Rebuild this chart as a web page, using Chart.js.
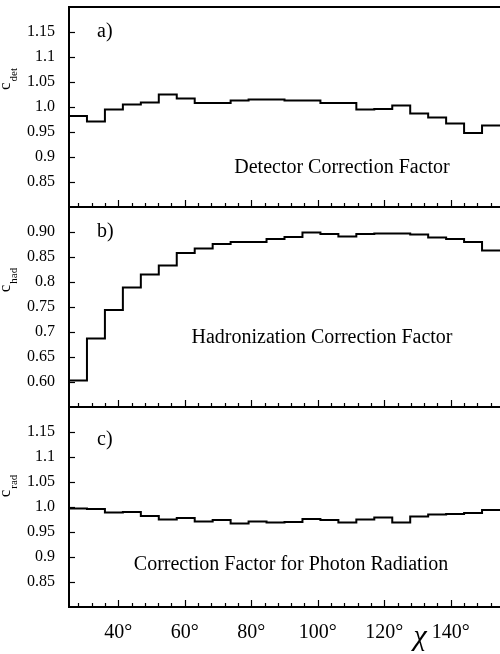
<!DOCTYPE html>
<html>
<head>
<meta charset="utf-8">
<script src="https://cdn.jsdelivr.net/npm/chart.js@4"></script>
<style>
  body { margin: 0; background: #fff; }
  #wrap { position: relative; width: 500px; height: 654px; overflow: hidden; }
  .panel { position: absolute; left: 0; width: 500px; }
</style>
</head>
<body>
<div id="wrap">
  <div class="panel" style="top:0px; height:208px"><canvas id="panelA"></canvas></div>
  <div class="panel" style="top:200px; height:208px"><canvas id="panelB"></canvas></div>
  <div class="panel" style="top:400px; height:254px"><canvas id="panelC"></canvas></div>
</div>
<script>
// bin edges in chi (degrees), 24 bins
let binEdges = [25.2, 30.6, 36, 41.4, 46.8, 52.2, 57.6, 63, 68.4, 73.8, 79.2, 84.6, 90,
                95.4, 100.8, 106.2, 111.6, 117, 122.4, 127.8, 133.2, 138.6, 144, 149.4, 154.8];

// correction factors, one per bin
let cDet = [0.982, 0.971, 0.995, 1.005, 1.009, 1.025, 1.017, 1.008, 1.008, 1.013, 1.015, 1.015,
            1.013, 1.013, 1.008, 1.008, 0.995, 0.996, 1.003, 0.987, 0.979, 0.967, 0.948, 0.963];
let cHad = [0.603, 0.687, 0.744, 0.789, 0.815, 0.833, 0.858, 0.867, 0.876, 0.880, 0.880, 0.886,
            0.890, 0.899, 0.896, 0.891, 0.896, 0.897, 0.897, 0.895, 0.889, 0.886, 0.880, 0.863];
let cRad = [0.997, 0.996, 0.989, 0.990, 0.982, 0.975, 0.978, 0.971, 0.974, 0.967, 0.971, 0.969,
            0.970, 0.976, 0.974, 0.969, 0.975, 0.979, 0.969, 0.981, 0.985, 0.986, 0.988, 0.994];

// tick values and labels
let xTickValues = [40, 60, 80, 100, 120, 140];
let xTickLabels = ['40°', '60°', '80°', '100°', '120°', '140°'];
let yTicksWide = [0.85, 0.9, 0.95, 1.0, 1.05, 1.1, 1.15];
let yLabelsWide = ['0.85', '0.9', '0.95', '1.0', '1.05', '1.1', '1.15'];
let yTicksHad = [0.60, 0.65, 0.7, 0.75, 0.8, 0.85, 0.90];
let yLabelsHad = ['0.60', '0.65', '0.7', '0.75', '0.8', '0.85', '0.90'];

const SERIF = '"Liberation Serif", "DejaVu Serif", serif';

// one point per left bin edge, plus the closing right edge
function histPoints(vals) {
    let pts = vals.map((v, i) => ({ x: binEdges[i], y: v }));
    pts.push({ x: binEdges[vals.length], y: vals[vals.length - 1] });
    return pts;
}

function line(ctx, x1, y1, x2, y2) {
    ctx.beginPath();
    ctx.moveTo(x1, y1);
    ctx.lineTo(x2, y2);
    ctx.stroke();
}

// draws the frame, inward ticks and the texts of one panel
function framePlugin(cfg) {
    return {
        id: 'frame',
        afterDraw(chart) {
            const ctx = chart.ctx;
            const a = chart.chartArea;
            const x = chart.scales.x, y = chart.scales.y;
            ctx.save();
            ctx.strokeStyle = '#000';
            ctx.lineWidth = 2;
            line(ctx, a.left, a.top, a.right, a.top);
            line(ctx, a.left, a.bottom, a.right, a.bottom);

            ctx.lineWidth = 1.2;
            cfg.yTicks.forEach(v => {
                const py = Math.round(y.getPixelForValue(v)) + 0.5;
                line(ctx, a.left, py, a.left + 6, py);
            });
            for (let d = 28; d <= 152; d += 4) {
                const px = Math.round(x.getPixelForValue(d)) + 0.5;
                const len = d % 20 === 0 ? 7 : 4;
                line(ctx, px, a.bottom, px, a.bottom - len);
            }

            ctx.fillStyle = '#000';
            ctx.textBaseline = 'alphabetic';
            ctx.font = '20px ' + SERIF;
            ctx.textAlign = 'left';
            ctx.fillText(cfg.letter, 97, cfg.letterY);
            ctx.textAlign = 'center';
            ctx.fillText(cfg.caption, cfg.captionX, cfg.captionY);

            // rotated y title with subscript
            ctx.save();
            ctx.translate(0, cfg.titleY);
            ctx.rotate(-Math.PI / 2);
            ctx.textAlign = 'left';
            ctx.font = '17px ' + SERIF;
            const cw = ctx.measureText('c').width;
            ctx.font = '11px ' + SERIF;
            const sw = ctx.measureText(cfg.sub).width;
            const start = -(cw + sw + 1) / 2;
            ctx.font = '17px ' + SERIF;
            ctx.fillText('c', start, 10);
            ctx.font = '11px ' + SERIF;
            ctx.fillText(cfg.sub, start + cw + 1, 17);
            ctx.restore();

            if (cfg.chi) {
                ctx.font = 'italic 30px ' + SERIF;
                ctx.textAlign = 'center';
                ctx.fillText('χ', 420, cfg.chiY);
            }
            ctx.restore();
        }
    };
}

function makePanel(id, vals, yMin, yMax, yTicks, yLabels, cfg, showX) {
    let ctx = document.getElementById(id).getContext('2d');
    return new Chart(ctx, {
        type: 'line',
        data: {
            datasets: [{
                data: histPoints(vals),
                stepped: 'before',
                borderColor: '#000',
                borderWidth: 2,
                pointRadius: 0,
                fill: false
            }]
        },
        options: {
            responsive: true,
            maintainAspectRatio: false,
            animation: false,
            layout: { padding: { top: 7, bottom: showX ? 0 : 1, left: 0, right: 0 } },
            plugins: { legend: { display: false }, tooltip: { enabled: false } },
            scales: {
                x: {
                    type: 'linear',
                    min: binEdges[0],
                    max: binEdges[binEdges.length - 1],
                    display: showX,
                    afterBuildTicks: s => { s.ticks = xTickValues.map(v => ({ value: v })); },
                    afterFit: s => {
                        s.height = showX ? 47 : 0;
                        s.paddingLeft = 0; s.paddingRight = 0;
                    },
                    ticks: {
                        callback: (v) => xTickLabels[xTickValues.indexOf(v)],
                        font: { family: SERIF, size: 20 },
                        color: '#000',
                        padding: 14,
                        maxRotation: 0
                    },
                    grid: { display: false, drawTicks: false },
                    border: { display: false }
                },
                y: {
                    min: yMin,
                    max: yMax,
                    afterBuildTicks: s => { s.ticks = yTicks.map(v => ({ value: v })); },
                    afterFit: s => {
                        s.width = 69;
                        s.paddingTop = 0; s.paddingBottom = 0;
                    },
                    ticks: {
                        callback: (v) => yLabels[yTicks.findIndex(t => Math.abs(t - v) < 1e-9)],
                        font: { family: SERIF, size: 16 },
                        color: '#000',
                        padding: 14
                    },
                    grid: { display: false, drawTicks: false },
                    border: { display: true, color: '#000', width: 2 }
                }
            }
        },
        plugins: [framePlugin(Object.assign({ yTicks: yTicks }, cfg))]
    });
}

makePanel('panelA', cDet, 0.8, 1.2, yTicksWide, yLabelsWide,
    { letter: 'a)', letterY: 37, caption: 'Detector Correction Factor', captionX: 342, captionY: 173,
      sub: 'det', titleY: 79 }, false);

makePanel('panelB', cHad, 0.55, 0.95, yTicksHad, yLabelsHad,
    { letter: 'b)', letterY: 37, caption: 'Hadronization Correction Factor', captionX: 322, captionY: 143,
      sub: 'had', titleY: 80 }, false);

makePanel('panelC', cRad, 0.8, 1.2, yTicksWide, yLabelsWide,
    { letter: 'c)', letterY: 45, caption: 'Correction Factor for Photon Radiation', captionX: 291, captionY: 170,
      sub: 'rad', titleY: 86, chi: true, chiY: 245 }, true);
</script>
</body>
</html>
